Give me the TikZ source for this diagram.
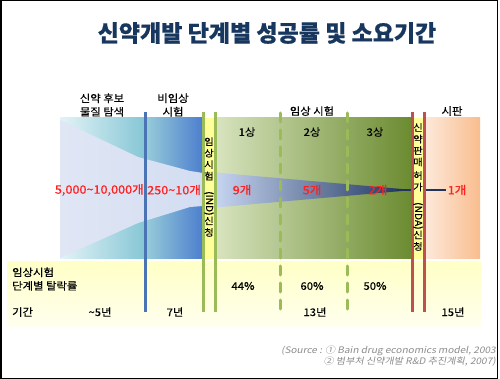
\documentclass[tikz,border=0pt]{standalone}
\usepackage{fontspec}
\usepackage{graphicx}
\setmainfont[FakeBold=0.5]{Noto Sans CJK KR}
\newfontfamily\numfont[FakeStretch=1.1, FakeBold=0.6]{Noto Sans CJK KR}
\newfontfamily\lblfont[FakeStretch=1.08, FakeBold=0.4]{Noto Sans CJK KR}
\newfontfamily\srcfont[FakeSlant=0.2, FakeStretch=1.12]{Noto Sans CJK KR}
\definecolor{titleblue}{HTML}{17375E}
\definecolor{bandtop}{HTML}{FFFFC6}
\definecolor{bandbot}{HTML}{FFFFEE}
\definecolor{discA}{HTML}{E3F3F7}
\definecolor{discB}{HTML}{86C6D5}
\definecolor{precA}{HTML}{98CDD9}
\definecolor{precB}{HTML}{4C7ECE}
\definecolor{funA}{HTML}{E0E6F4}
\definecolor{funB}{HTML}{D3DDF2}
\definecolor{clinA}{HTML}{D8E4BF}
\definecolor{clinB}{HTML}{6B8B30}
\definecolor{cfunA}{HTML}{C6D5F0}
\definecolor{cfunB}{HTML}{1F3560}
\definecolor{mktA}{HTML}{FDEADC}
\definecolor{mktB}{HTML}{F9BD8E}
\definecolor{stripyellow}{HTML}{FFFF99}
\definecolor{blueline}{HTML}{4A74B4}
\definecolor{greenline}{HTML}{9BBB59}
\definecolor{redline}{HTML}{C0504D}
\definecolor{numred}{HTML}{FF2020}
\definecolor{srcgray}{HTML}{8C8C8C}
\begin{document}
\begin{tikzpicture}[x=1pt,y=-1pt,
  lbl/.style={inner sep=0pt, font=\lblfont\fontsize{10.5}{13.5}\selectfont, align=center},
  num/.style={inner sep=0pt, font=\numfont\fontsize{11.5}{13}\selectfont, text=numred},
  vtext/.style={inner sep=0pt, font=\lblfont\fontsize{9.5}{11.5}\selectfont, align=center},
  vline/.style={line width=3pt},
  stripfill/.style={fill=stripyellow},
  src/.style={inner sep=0pt, font=\srcfont\fontsize{9}{11}\selectfont, text=srcgray, align=right}]
\useasboundingbox (0,0) rectangle (500,379);
\fill[white] (0,0) rectangle (500,379);
% bottom band
\shade[top color=bandtop, bottom color=bandbot] (7,261) rectangle (481,326);
% discovery and preclinical regions
\shade[left color=discA, right color=discB] (60,118) rectangle (145,258);
\shade[left color=precA, right color=precB] (145,118) rectangle (203,258);
\shade[left color=funA, right color=funB] (60,120) -- (138,157) -- (190,171) -- (203,173) -- (203,206) -- (190,207) -- (138,223) -- (60,258) -- cycle;
% clinical region
\shade[left color=clinA, right color=clinB] (215,118) rectangle (412,258);
\shade[left color=cfunA, right color=cfunB] (215,172.5) -- (404,189.2) -- (404,190.8) -- (215,207.5) -- cycle;
% market region
\shade[left color=mktA, right color=mktB] (424,118) rectangle (480,258);
\draw[cfunB, line width=1.5pt] (396,190) -- (446,190);
% strips
\fill[stripfill] (203,118) rectangle (215,259);
\fill[stripfill] (412,118) rectangle (424,259);
% vertical lines
\draw[vline, blueline] (145,112) -- (145,312);
\draw[vline, greenline] (203,112) -- (203,312);
\draw[vline, greenline] (215,112) -- (215,312);
\draw[vline, greenline, line cap=round, dash pattern=on 9pt off 8pt] (280,113) -- (280,312);
\draw[vline, greenline, line cap=round, dash pattern=on 9pt off 8pt] (347,113) -- (347,312);
\draw[vline, redline] (412,112) -- (412,312);
\draw[vline, redline] (424,112) -- (424,312);
% title
\node[inner sep=0pt, font=\fontsize{23}{26}\selectfont\bfseries, text=titleblue] (title) at (267,33) {신약개발 단계별 성공률 및 소요기간};
% stage labels
\node[lbl] (disc) at (102,105) {신약 후보\\물질 탐색};
\node[lbl] (prec) at (173,105) {비임상\\시험};
\node[lbl] (clin) at (312,111) {임상 시험};
\node[lbl] (mkt) at (452,111) {시판};
\node[lbl] (p1) at (247,132) {1상};
\node[lbl] (p2) at (312,132) {2상};
\node[lbl] (p3) at (375,132) {3상};
% vertical strip texts
\node[vtext] (ind) at (209,187) {임\\상\\시\\험\\\rotatebox{-90}{(IND)}\\신\\청};
\node[vtext] (nda) at (418,187) {신\\약\\판\\매\\[2pt]허\\가\\\rotatebox{-90}{(NDA)}\\신\\청};
% numbers
\node[num, anchor=east] (n1) at (144,190) {5,000\textasciitilde10,000개};
\node[num, anchor=west] (n2) at (147,190) {250\textasciitilde10개};
\node[num] (n3) at (242,190) {9개};
\node[num] (n4) at (312,190) {5개};
\node[num] (n5) at (378,190) {2개};
\node[num] (n6) at (457,190) {1개};
% bottom rows
\node[lbl, anchor=west, align=left] (drop) at (12,279) {임상시험\\단계별 탈락률};
\node[lbl] (d1) at (243,286) {44\%};
\node[lbl] (d2) at (312,286) {60\%};
\node[lbl] (d3) at (375,286) {50\%};
\node[lbl, anchor=west] (dur) at (12,312) {기간};
\node[lbl] (y1) at (100,312) {\textasciitilde5년};
\node[lbl] (y2) at (175,312) {7년};
\node[lbl] (y3) at (315,312) {13년};
\node[lbl] (y4) at (453,312) {15년};
% source
\node[src, anchor=north east] (source) at (496,346) {(Source : ① Bain drug economics model, 2003\\② 범부처 신약개발 R\&D 추진계획, 2007)};
% frame
\draw[line width=1.5pt] (0.75,0.75) rectangle (497.5,378.25);
\end{tikzpicture}
\end{document}
